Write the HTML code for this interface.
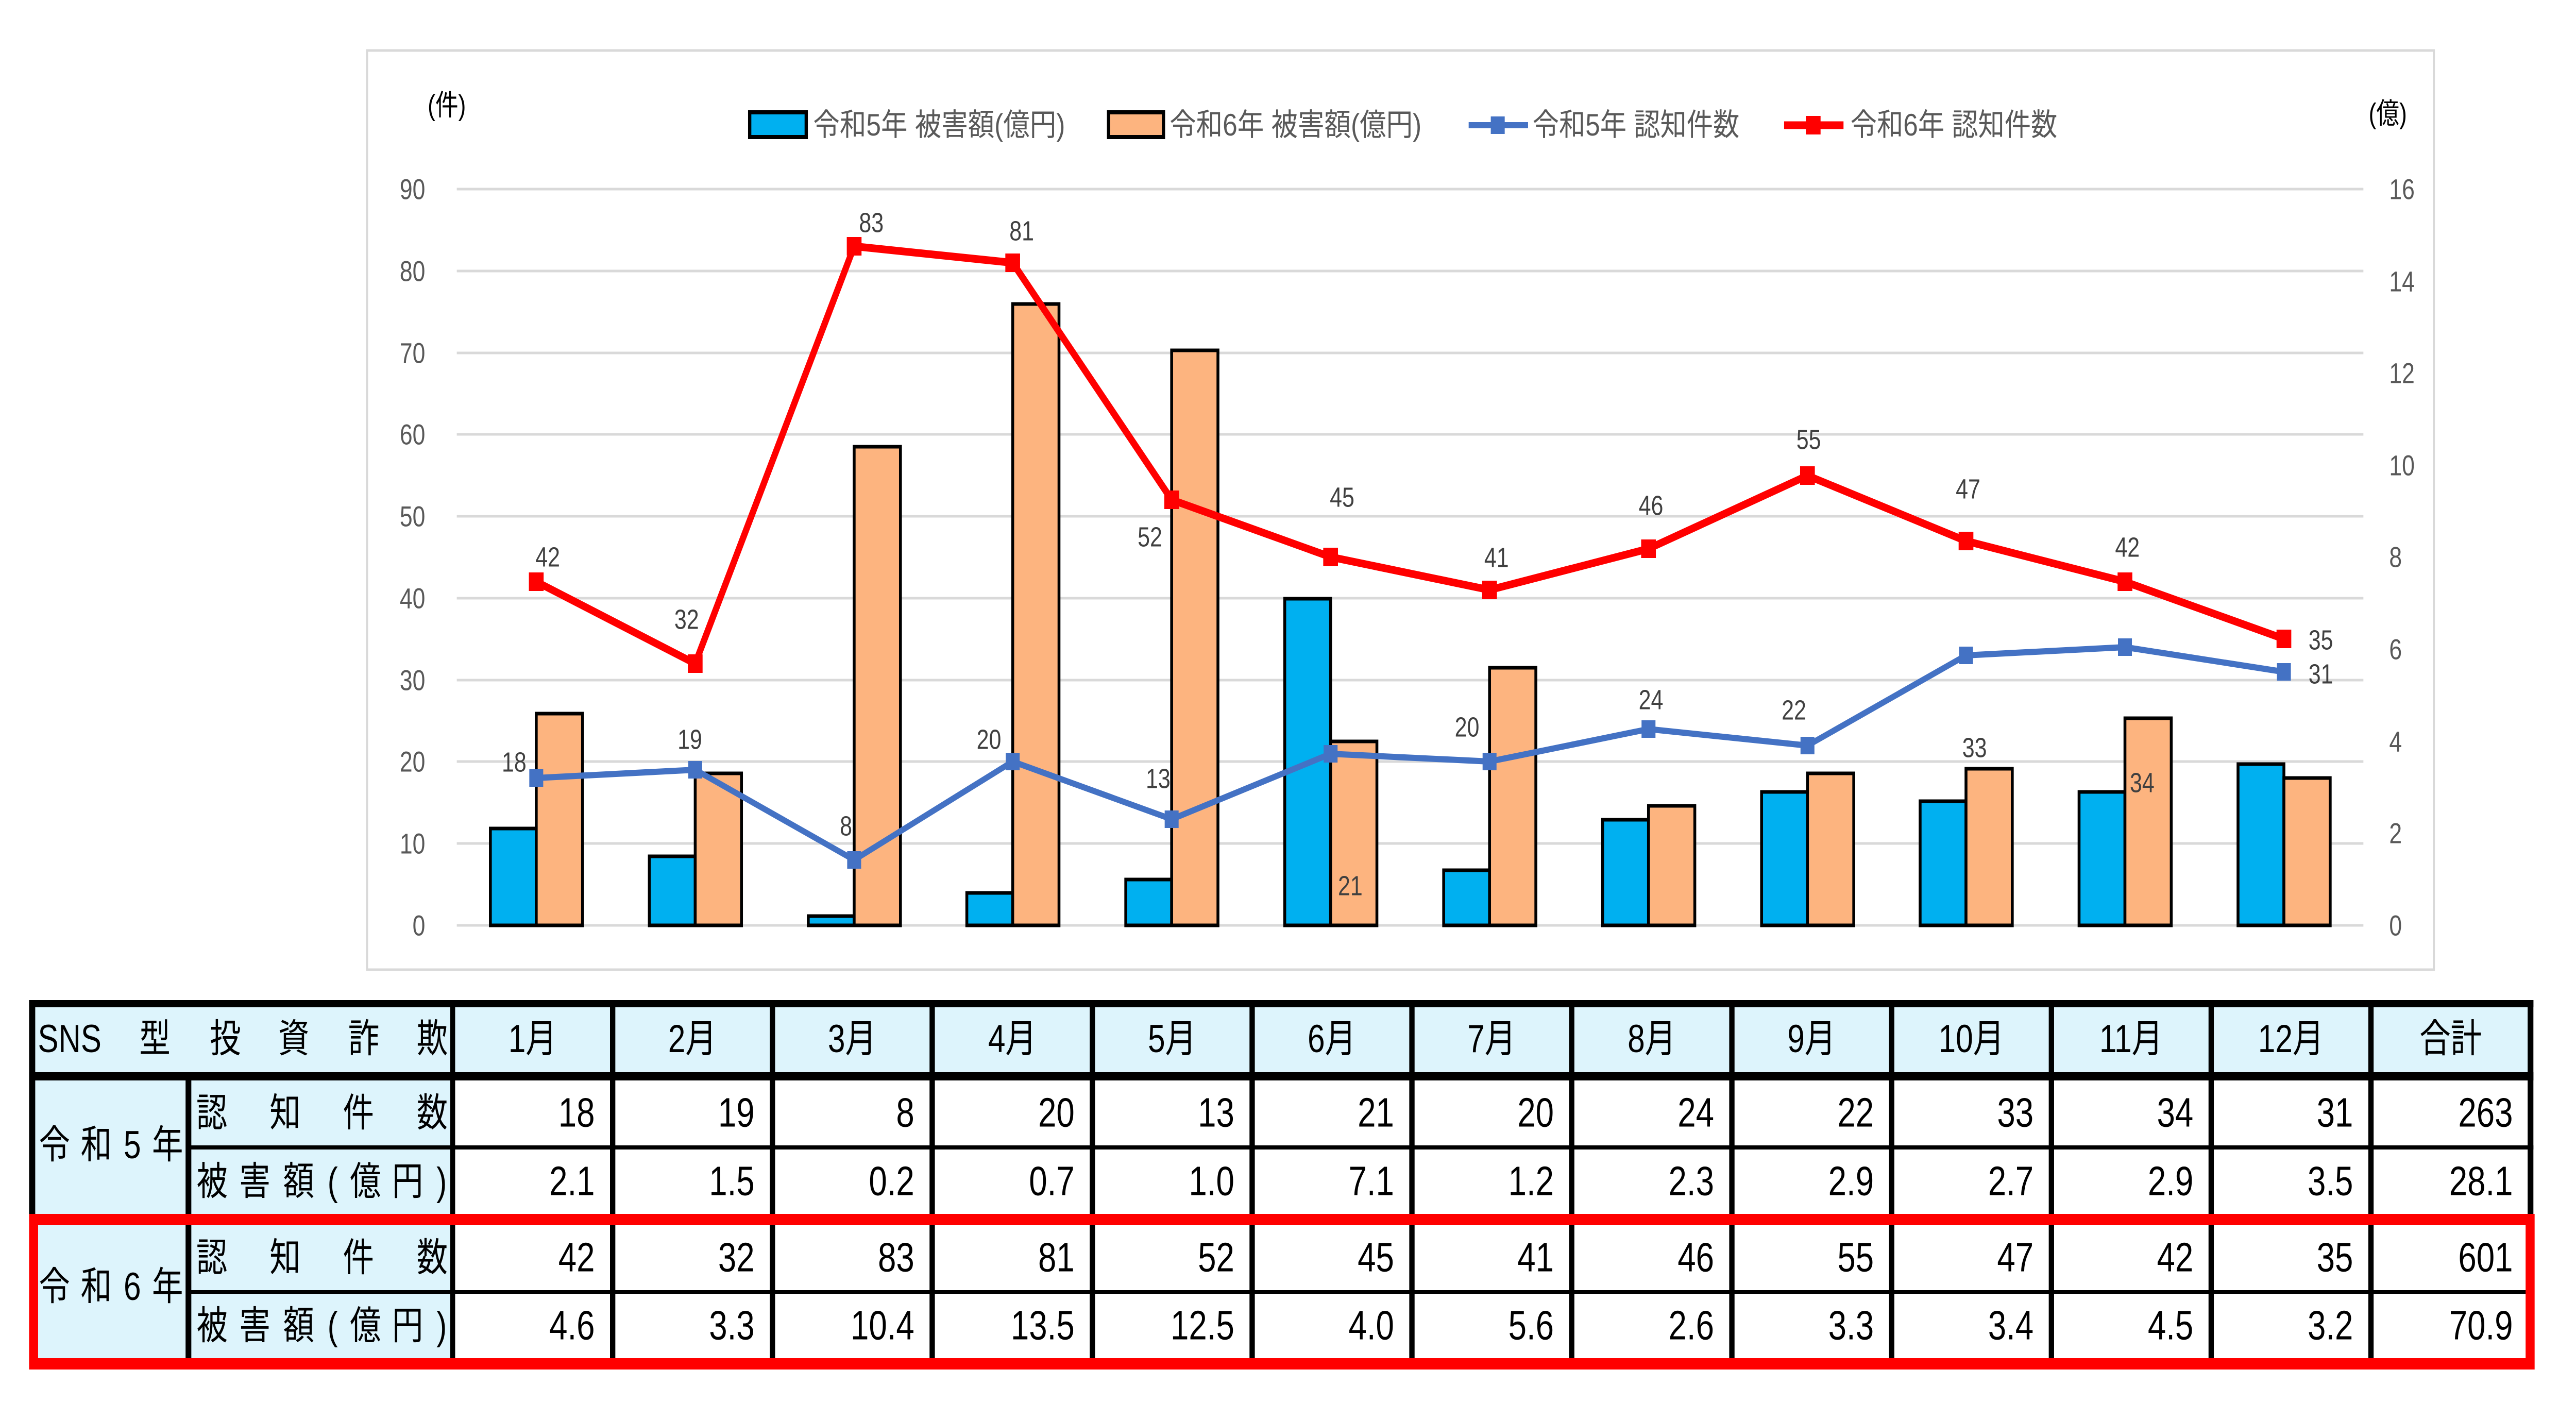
<!DOCTYPE html>
<html><head><meta charset="utf-8"><style>
html,body{margin:0;padding:0;background:#fff;width:100%;height:100%;overflow:hidden}
svg{display:block;width:100vw;height:100vh}
text{font-family:"Liberation Sans","Noto Sans CJK JP",sans-serif}
</style></head><body>
<svg viewBox="0 0 6288 2756" preserveAspectRatio="none" xmlns="http://www.w3.org/2000/svg">
<rect x="0" y="0" width="6288" height="2756" fill="#fff"/>
<rect x="896" y="98" width="5045" height="1784" fill="none" stroke="#D9D9D9" stroke-width="5"/>
<g stroke="#D9D9D9" stroke-width="5">
<line x1="1115" y1="367" x2="5769" y2="367"/><line x1="1115" y1="526" x2="5769" y2="526"/>
<line x1="1115" y1="685" x2="5769" y2="685"/><line x1="1115" y1="843" x2="5769" y2="843"/>
<line x1="1115" y1="1002" x2="5769" y2="1002"/><line x1="1115" y1="1161" x2="5769" y2="1161"/>
<line x1="1115" y1="1320" x2="5769" y2="1320"/><line x1="1115" y1="1478" x2="5769" y2="1478"/>
<line x1="1115" y1="1637" x2="5769" y2="1637"/><line x1="1115" y1="1796" x2="5769" y2="1796"/>
</g>
<g font-size="56" fill="#595959" text-anchor="end" dominant-baseline="central">
<text x="1038" y="367">90</text><text x="1038" y="526">80</text><text x="1038" y="685">70</text>
<text x="1038" y="843">60</text><text x="1038" y="1002">50</text><text x="1038" y="1161">40</text>
<text x="1038" y="1320">30</text><text x="1038" y="1478">20</text><text x="1038" y="1637">10</text>
<text x="1038" y="1796">0</text>
</g>
<g font-size="56" fill="#595959" dominant-baseline="central">
<text x="5832" y="367">16</text><text x="5832" y="546">14</text><text x="5832" y="724">12</text>
<text x="5832" y="903">10</text><text x="5832" y="1081">8</text><text x="5832" y="1260">6</text>
<text x="5832" y="1439">4</text><text x="5832" y="1617">2</text><text x="5832" y="1796">0</text>
</g>
<text x="1044" y="204" font-size="56" fill="#000" dominant-baseline="central">(件)</text>
<text x="5782" y="220" font-size="56" fill="#000" dominant-baseline="central">(億)</text>
<g stroke="#000" stroke-width="7">
<rect x="1197" y="1608" width="112" height="188" fill="#00B0F0"/><rect x="1309" y="1385" width="113" height="411" fill="#FDB47F"/>
<rect x="1585" y="1662" width="112" height="134" fill="#00B0F0"/><rect x="1697" y="1501" width="113" height="295" fill="#FDB47F"/>
<rect x="1973" y="1778" width="112" height="18" fill="#00B0F0"/><rect x="2085" y="867" width="113" height="929" fill="#FDB47F"/>
<rect x="2360" y="1733" width="112" height="63" fill="#00B0F0"/><rect x="2472" y="590" width="113" height="1206" fill="#FDB47F"/>
<rect x="2748" y="1707" width="112" height="89" fill="#00B0F0"/><rect x="2860" y="680" width="113" height="1116" fill="#FDB47F"/>
<rect x="3136" y="1162" width="112" height="634" fill="#00B0F0"/><rect x="3248" y="1439" width="113" height="357" fill="#FDB47F"/>
<rect x="3524" y="1689" width="112" height="107" fill="#00B0F0"/><rect x="3636" y="1296" width="113" height="500" fill="#FDB47F"/>
<rect x="3912" y="1591" width="112" height="205" fill="#00B0F0"/><rect x="4024" y="1564" width="113" height="232" fill="#FDB47F"/>
<rect x="4300" y="1537" width="112" height="259" fill="#00B0F0"/><rect x="4412" y="1501" width="113" height="295" fill="#FDB47F"/>
<rect x="4687" y="1555" width="112" height="241" fill="#00B0F0"/><rect x="4799" y="1492" width="113" height="304" fill="#FDB47F"/>
<rect x="5075" y="1537" width="112" height="259" fill="#00B0F0"/><rect x="5187" y="1394" width="113" height="402" fill="#FDB47F"/>
<rect x="5463" y="1483" width="112" height="313" fill="#00B0F0"/><rect x="5575" y="1510" width="113" height="286" fill="#FDB47F"/>
</g>
<polyline fill="none" stroke="#4472C4" stroke-width="12" stroke-linejoin="round" points="1309,1510 1697,1494 2085,1669 2472,1478 2860,1590 3248,1463 3636,1478 4024,1415 4412,1447 4799,1272 5187,1256 5575,1304"/>
<g fill="#4472C4">
<rect x="1292" y="1493" width="34" height="34"/><rect x="1680" y="1477" width="34" height="34"/><rect x="2068" y="1652" width="34" height="34"/>
<rect x="2455" y="1461" width="34" height="34"/><rect x="2843" y="1573" width="34" height="34"/><rect x="3231" y="1446" width="34" height="34"/>
<rect x="3619" y="1461" width="34" height="34"/><rect x="4007" y="1398" width="34" height="34"/><rect x="4395" y="1430" width="34" height="34"/>
<rect x="4782" y="1255" width="34" height="34"/><rect x="5170" y="1239" width="34" height="34"/><rect x="5558" y="1287" width="34" height="34"/>
</g>
<polyline fill="none" stroke="#FF0000" stroke-width="15" stroke-linejoin="round" points="1309,1129 1697,1288 2085,478 2472,510 2860,970 3248,1081 3636,1145 4024,1065 4412,923 4799,1050 5187,1129 5575,1240"/>
<g fill="#FF0000">
<rect x="1291" y="1111" width="36" height="36"/><rect x="1679" y="1270" width="36" height="36"/><rect x="2067" y="460" width="36" height="36"/>
<rect x="2454" y="492" width="36" height="36"/><rect x="2842" y="952" width="36" height="36"/><rect x="3230" y="1063" width="36" height="36"/>
<rect x="3618" y="1127" width="36" height="36"/><rect x="4006" y="1047" width="36" height="36"/><rect x="4394" y="905" width="36" height="36"/>
<rect x="4781" y="1032" width="36" height="36"/><rect x="5169" y="1111" width="36" height="36"/><rect x="5557" y="1222" width="36" height="36"/>
</g>
<g font-size="54" fill="#404040" text-anchor="middle" dominant-baseline="central">
<text x="1337" y="1082">42</text><text x="1676" y="1203">32</text><text x="2127" y="433">83</text><text x="2494" y="449">81</text>
<text x="2807" y="1043">52</text><text x="3276" y="966">45</text><text x="3653" y="1083">41</text><text x="4030" y="982">46</text>
<text x="4415" y="854">55</text><text x="4804" y="950">47</text><text x="5193" y="1063">42</text><text x="5665" y="1243">35</text>
<text x="1255" y="1480">18</text><text x="1684" y="1436">19</text><text x="2065" y="1604">8</text><text x="2414" y="1436">20</text>
<text x="2827" y="1512">13</text><text x="3296" y="1720">21</text><text x="3581" y="1412">20</text><text x="4030" y="1359">24</text>
<text x="4379" y="1379">22</text><text x="4820" y="1452">33</text><text x="5229" y="1520">34</text><text x="5665" y="1309">31</text>
</g>
<rect x="1830" y="218" width="138" height="48" fill="#00B0F0" stroke="#000" stroke-width="8"/>
<text x="1985" y="243" font-size="60" fill="#595959" dominant-baseline="central" textLength="615" lengthAdjust="spacingAndGlyphs">令和5年 被害額(億円)</text>
<rect x="2706" y="218" width="134" height="48" fill="#FDB47F" stroke="#000" stroke-width="8"/>
<text x="2855" y="243" font-size="60" fill="#595959" dominant-baseline="central" textLength="615" lengthAdjust="spacingAndGlyphs">令和6年 被害額(億円)</text>
<line x1="3585" y1="243" x2="3730" y2="243" stroke="#4472C4" stroke-width="12"/>
<rect x="3639" y="226" width="34" height="34" fill="#4472C4"/>
<text x="3741" y="243" font-size="60" fill="#595959" dominant-baseline="central" textLength="505" lengthAdjust="spacingAndGlyphs">令和5年 認知件数</text>
<line x1="4355" y1="243" x2="4500" y2="243" stroke="#FF0000" stroke-width="15"/>
<rect x="4408" y="225" width="36" height="36" fill="#FF0000"/>
<text x="4517" y="243" font-size="60" fill="#595959" dominant-baseline="central" textLength="505" lengthAdjust="spacingAndGlyphs">令和6年 認知件数</text>

<rect x="71" y="1941" width="1034" height="695" fill="#DDF4FC"/>
<rect x="1105" y="1941" width="5075" height="156" fill="#DDF4FC"/>
<rect x="71" y="1941" width="6113" height="14" fill="#000"/>
<rect x="71" y="2081" width="6113" height="16" fill="#000"/>
<rect x="460" y="2223" width="5724" height="8" fill="#000"/>
<rect x="460" y="2504" width="5710" height="7" fill="#000"/>
<rect x="71" y="1941" width="15" height="430" fill="#000"/>
<rect x="6170" y="1941" width="14" height="430" fill="#000"/>
<rect x="453" y="2097" width="14" height="539" fill="#000"/>
<rect x="1099" y="1941" width="12" height="695" fill="#000"/>
<g fill="#000">
<rect x="1489" y="1941" width="13" height="695"/><rect x="1879" y="1941" width="13" height="695"/><rect x="2269" y="1941" width="13" height="695"/>
<rect x="2660" y="1941" width="13" height="695"/><rect x="3050" y="1941" width="13" height="695"/><rect x="3440" y="1941" width="13" height="695"/>
<rect x="3830" y="1941" width="13" height="695"/><rect x="4221" y="1941" width="13" height="695"/><rect x="4611" y="1941" width="13" height="695"/>
<rect x="5001" y="1941" width="13" height="695"/><rect x="5391" y="1941" width="13" height="695"/><rect x="5781" y="1941" width="13" height="695"/>
</g>
<rect x="82" y="2367" width="6094" height="280" fill="none" stroke="#FF0000" stroke-width="22"/>
<rect x="71" y="2367" width="15" height="280" fill="#FF0000"/>
<g font-size="76" fill="#000" text-anchor="middle" dominant-baseline="central">
<text x="170" y="2016" textLength="155" lengthAdjust="spacingAndGlyphs">SNS</text>
<text x="378" y="2016">型</text><text x="550" y="2016">投</text><text x="717" y="2016">資</text><text x="888" y="2016">詐</text><text x="1055" y="2016">欺</text>
<text x="1300" y="2016">1月</text><text x="1690" y="2016">2月</text><text x="2080" y="2016">3月</text><text x="2471" y="2016">4月</text>
<text x="2861" y="2016">5月</text><text x="3251" y="2016">6月</text><text x="3641" y="2016">7月</text><text x="4032" y="2016">8月</text>
<text x="4422" y="2016">9月</text><text x="4812" y="2016">10月</text><text x="5202" y="2016">11月</text><text x="5592" y="2016">12月</text>
<text x="5982" y="2016">合計</text>
<text x="133" y="2222">令</text><text x="235" y="2222">和</text><text x="323" y="2222">5</text><text x="409" y="2222">年</text>
<text x="133" y="2497">令</text><text x="235" y="2497">和</text><text x="323" y="2497">6</text><text x="409" y="2497">年</text>
<text x="517" y="2160">認</text><text x="696" y="2160">知</text><text x="875" y="2160">件</text><text x="1055" y="2160">数</text>
<text x="517" y="2441">認</text><text x="696" y="2441">知</text><text x="875" y="2441">件</text><text x="1055" y="2441">数</text>
<text x="518" y="2293">被</text><text x="622" y="2293">害</text><text x="729" y="2293">額</text><text x="812" y="2293">(</text><text x="892" y="2293">億</text><text x="995" y="2293">円</text><text x="1078" y="2293">)</text>
<text x="518" y="2573">被</text><text x="622" y="2573">害</text><text x="729" y="2573">額</text><text x="812" y="2573">(</text><text x="892" y="2573">億</text><text x="995" y="2573">円</text><text x="1078" y="2573">)</text>
</g>
<g font-size="80" fill="#000" text-anchor="end" dominant-baseline="central">
<text x="1452" y="2160">18</text><text x="1842" y="2160">19</text><text x="2232" y="2160">8</text><text x="2623" y="2160">20</text><text x="3013" y="2160">13</text><text x="3403" y="2160">21</text><text x="3793" y="2160">20</text><text x="4184" y="2160">24</text><text x="4574" y="2160">22</text><text x="4964" y="2160">33</text><text x="5354" y="2160">34</text><text x="5744" y="2160">31</text><text x="6134" y="2160">263</text>
<text x="1452" y="2293">2.1</text><text x="1842" y="2293">1.5</text><text x="2232" y="2293">0.2</text><text x="2623" y="2293">0.7</text><text x="3013" y="2293">1.0</text><text x="3403" y="2293">7.1</text><text x="3793" y="2293">1.2</text><text x="4184" y="2293">2.3</text><text x="4574" y="2293">2.9</text><text x="4964" y="2293">2.7</text><text x="5354" y="2293">2.9</text><text x="5744" y="2293">3.5</text><text x="6134" y="2293">28.1</text>
<text x="1452" y="2441">42</text><text x="1842" y="2441">32</text><text x="2232" y="2441">83</text><text x="2623" y="2441">81</text><text x="3013" y="2441">52</text><text x="3403" y="2441">45</text><text x="3793" y="2441">41</text><text x="4184" y="2441">46</text><text x="4574" y="2441">55</text><text x="4964" y="2441">47</text><text x="5354" y="2441">42</text><text x="5744" y="2441">35</text><text x="6134" y="2441">601</text>
<text x="1452" y="2573">4.6</text><text x="1842" y="2573">3.3</text><text x="2232" y="2573">10.4</text><text x="2623" y="2573">13.5</text><text x="3013" y="2573">12.5</text><text x="3403" y="2573">4.0</text><text x="3793" y="2573">5.6</text><text x="4184" y="2573">2.6</text><text x="4574" y="2573">3.3</text><text x="4964" y="2573">3.4</text><text x="5354" y="2573">4.5</text><text x="5744" y="2573">3.2</text><text x="6134" y="2573">70.9</text>
</g>
</svg>
</body></html>
